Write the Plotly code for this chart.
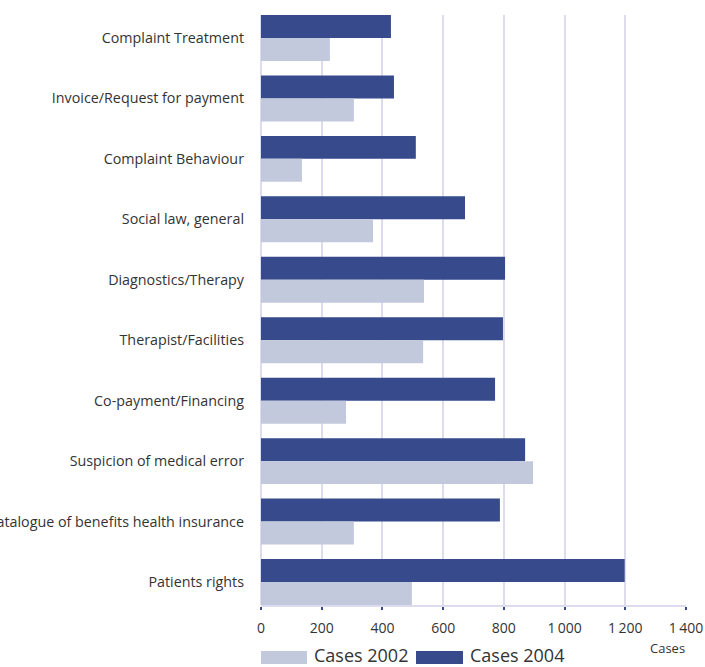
import plotly.graph_objects as go

kategorije = [
    "Complaint Treatment",
    "Invoice/Request for payment",
    "Complaint Behaviour",
    "Social law, general",
    "Diagnostics/Therapy",
    "Therapist/Facilities",
    "Co-payment/Financing",
    "Suspicion of medical error",
    "Catalogue of benefits health insurance",
    "Patients rights",
]
primeri_2002 = [227, 306, 135, 369, 537, 534, 280, 896, 306, 497]
primeri_2004 = [428, 438, 510, 672, 804, 797, 771, 870, 787, 1198]

tick_vrednosti = [0, 200, 400, 600, 800, 1000, 1200, 1400]
tick_oznake = ["0", "200", "400", "600", "800", "1\u2009000", "1\u2009200", "1\u2009400"]

TEMNA = "#364a8c"
SVETLA = "#c3c9dc"
MREZA = "#dcdcee"
PISAVA = "Open Sans"

fig = go.Figure()
fig.add_trace(go.Bar(y=kategorije, x=primeri_2004, orientation="h",
                     name="Cases 2004", marker_color=TEMNA, marker_line_width=0))
fig.add_trace(go.Bar(y=kategorije, x=primeri_2002, orientation="h",
                     name="Cases 2002", marker_color=SVETLA, marker_line_width=0))

fig.update_layout({
    "width": 705,
    "height": 667,
    "barmode": "group",
    "bargap": 0.24,
    "bargroupgap": 0,
    "showlegend": False,
    "plot_bgcolor": "white",
    "paper_bgcolor": "white",
    "font": {"family": PISAVA, "size": 14, "color": "#333333"},
    "margin": {"l": 261, "r": 19, "t": 15, "b": 62, "pad": 0},
})

fig.update_xaxes(
    range=[0, 1400],
    tickvals=tick_vrednosti,
    ticktext=tick_oznake,
    showgrid=True, gridcolor=MREZA, gridwidth=1.5,
    zeroline=True, zerolinecolor=MREZA, zerolinewidth=1.5,
    showline=True, linecolor=MREZA, linewidth=1.5,
    ticks="outside", ticklen=3, tickwidth=1.5, tickcolor=TEMNA,
    tickfont={"size": 14, "color": "#333333"},
    ticklabelstandoff=6,
    automargin=False,
)
fig.update_yaxes(
    range=[9.38, -0.38],
    showgrid=False, zeroline=False, showline=False,
    ticks="", ticklabelstandoff=16,
    tickfont={"size": 14.3, "color": "#333333"},
    automargin=False,
)

# os x oznaka
fig.add_annotation(text="Cases", xref="paper", yref="paper",
                   x=(667 - 261) / 425, y=(605 - 648) / 590,
                   xanchor="center", yanchor="middle",
                   showarrow=False, font={"size": 13, "color": "#333333"})

# legenda narisana rocno (siroki pravokotniki)
legenda = [("Cases 2002", SVETLA, 261, 307, 312), ("Cases 2004", TEMNA, 416, 463, 468)]
for ime, barva, x0, x1, xt in legenda:
    fig.add_shape(type="rect", xref="paper", yref="paper",
                  x0=(x0 - 261) / 425, x1=(x1 - 261) / 425,
                  y0=(605 - 664) / 590, y1=(605 - 651) / 590,
                  fillcolor=barva, line_width=0)
    fig.add_annotation(text=ime, xref="paper", yref="paper",
                       x=(xt - 261) / 425, y=(605 - 655) / 590,
                       xanchor="left", yanchor="middle", showarrow=False,
                       font={"size": 18, "color": "#333333"})

fig.write_html("out.html", config={"displayModeBar": False},
               post_script="document.body.style.margin='0';")
